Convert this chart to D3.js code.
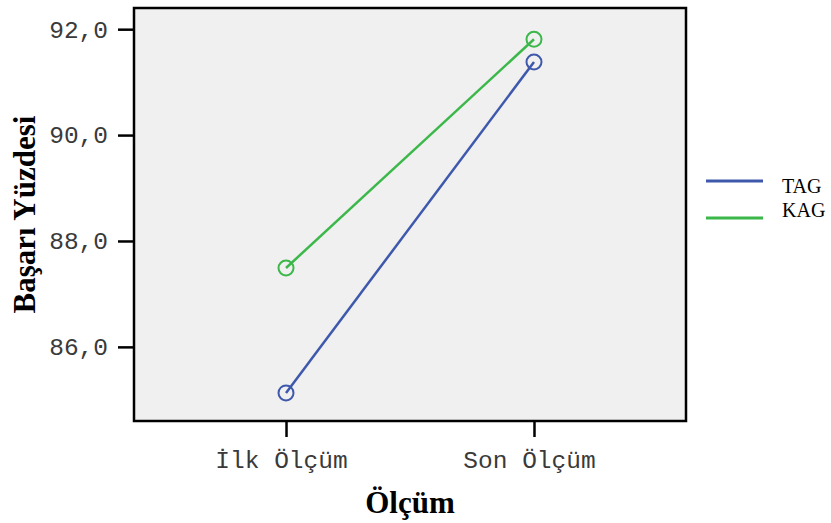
<!DOCTYPE html>
<html>
<head>
<meta charset="utf-8">
<script src="https://cdn.jsdelivr.net/npm/d3@7"></script>
<style>
body { margin: 0; background: #fff; }
</style>
</head>
<body>
<div id="chart"></div>
<script>
var categories = ['İlk Ölçüm', 'Son Ölçüm'],
    tagValues = [85.13, 91.38],
    kagValues = [87.49, 91.81],
    yTicks = [86, 88, 90, 92];

var series = [
    { name: 'TAG', color: '#3e58ac', values: tagValues },
    { name: 'KAG', color: '#3cb84a', values: kagValues }
];

var width = 831,
    height = 523,
    margin = { top: 8, right: 145, bottom: 102, left: 134 },
    w = width - margin.left - margin.right,
    h = height - margin.top - margin.bottom;

var svg = d3.select('#chart').append('svg')
    .attr('width', width)
    .attr('height', height);

var g = svg.append('g')
    .attr('transform', 'translate(' + margin.left + ',' + margin.top + ')');

var x = d3.scalePoint().domain(categories).range([0, w]).padding(0.613),
    y = d3.scaleLinear().domain([84.6, 92.4]).range([h, 0]);

g.append('rect')
    .attr('width', w)
    .attr('height', h)
    .style('fill', '#f0f0f0');

var fmt = function (d) { return d3.format('.1f')(d).replace('.', ','); };

var yAxis = g.append('g')
    .call(d3.axisLeft(y).tickValues(yTicks).tickFormat(fmt).tickSize(16).tickPadding(10));
var xAxis = g.append('g')
    .attr('transform', 'translate(0,' + h + ')')
    .call(d3.axisBottom(x).tickSize(16).tickPadding(14));

[yAxis, xAxis].forEach(function (a) {
    a.select('.domain').remove();
    a.selectAll('line').style('stroke', '#000').style('stroke-width', 2.5);
    a.selectAll('text')
        .style('font-family', '"Liberation Mono", "Courier New", monospace')
        .style('font-size', '24.5px')
        .style('fill', '#3a3a3a');
});
xAxis.selectAll('text').attr('dx', -5);

var line = d3.line()
    .x(function (d, i) { return x(categories[i]); })
    .y(function (d) { return y(d); });

series.forEach(function (s) {
    g.append('path')
        .datum(s.values)
        .attr('d', line)
        .style('fill', 'none')
        .style('stroke', s.color)
        .style('stroke-width', 2.5);
    g.selectAll(null)
        .data(s.values)
        .enter()
        .append('circle')
        .attr('cx', function (d, i) { return x(categories[i]); })
        .attr('cy', function (d) { return y(d); })
        .attr('r', 7.5)
        .style('fill', 'none')
        .style('stroke', s.color)
        .style('stroke-width', 2);
});

g.append('rect')
    .attr('width', w)
    .attr('height', h)
    .style('fill', 'none')
    .style('stroke', '#000')
    .style('stroke-width', 2.5);

svg.append('text')
    .attr('transform', 'translate(35,' + (margin.top + h / 2) + ') rotate(-90)')
    .attr('text-anchor', 'middle')
    .style('font-family', '"Liberation Serif", "Times New Roman", serif')
    .style('font-weight', 'bold')
    .style('font-size', '31px')
    .text('Başarı Yüzdesi');

svg.append('text')
    .attr('x', margin.left + w / 2)
    .attr('y', 513)
    .attr('text-anchor', 'middle')
    .style('font-family', '"Liberation Serif", "Times New Roman", serif')
    .style('font-weight', 'bold')
    .style('font-size', '31px')
    .text('Ölçüm');

var legend = svg.append('g')
    .attr('transform', 'translate(706,181)');

legend.selectAll('g')
    .data(series)
    .enter()
    .append('g')
    .attr('transform', function (d, i) { return 'translate(0,' + i * 37 + ')'; })
    .each(function (d, i) {
        var item = d3.select(this);
        item.append('line')
            .attr('x1', 0)
            .attr('x2', 57)
            .style('stroke', d.color)
            .style('stroke-width', 3);
        item.append('text')
            .attr('x', 76)
            .attr('y', i === 0 ? 12 : -1)
            .style('font-family', '"Liberation Serif", "Times New Roman", serif')
            .style('font-size', '20px')
            .text(d.name);
    });
</script>
</body>
</html>
